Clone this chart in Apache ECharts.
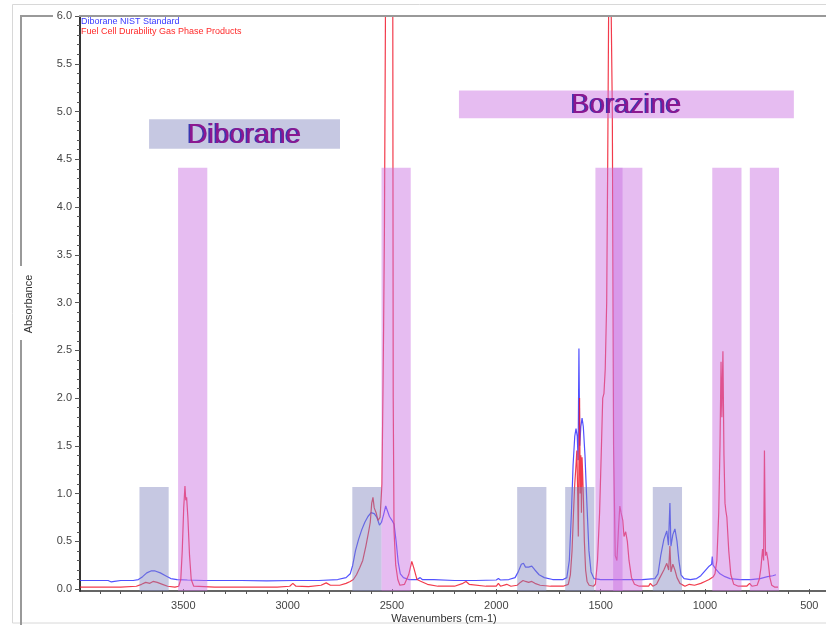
<!DOCTYPE html>
<html><head><meta charset="utf-8">
<script src="https://cdn.jsdelivr.net/npm/echarts@6/dist/echarts.min.js"></script>
<style>html,body{margin:0;padding:0;background:#fff}#c{width:826px;height:625px}</style>
</head><body><div id="c"></div>
<script>
// ---- tick labels ----
const xLabelValues = [3500, 3000, 2500, 2000, 1500, 1000, 500];
const xMinorTicks = [3900,3800,3700,3600,3500,3400,3300,3200,3100,3000,2900,2800,2700,2600,2500,2400,2300,2200,2100,2000,1900,1800,1700,1600,1500,1400,1300,1200,1100,1000,900,800,700,600,500];
const yLabelValues = [0, 0.5, 1, 1.5, 2, 2.5, 3, 3.5, 4, 4.5, 5, 5.5, 6];
const yMinorTicks = [0,0.1,0.2,0.3,0.4,0.5,0.6,0.7,0.8,0.9,1,1.1,1.2,1.3,1.4,1.5,1.6,1.7,1.8,1.9,2,2.1,2.2,2.3,2.4,2.5,2.6,2.7,2.8,2.9,3,3.1,3.2,3.3,3.4,3.5,3.6,3.7,3.8,3.9,4,4.1,4.2,4.3,4.4,4.5,4.6,4.7,4.8,4.9,5,5.1,5.2,5.3,5.4,5.5,5.6,5.7,5.8,5.9,6];

// ---- series names ----
const blueName = 'Diborane NIST Standard';
const redName = 'Fuel Cell Durability Gas Phase Products';

// ---- Diborane NIST standard spectrum (wavenumber, absorbance) ----
const blueWn = [3995,3930,3860,3845,3830,3800,3740,3715,3695,3675,3655,3635,3610,3585,3560,3530,3480,3400,3300,3235,3228,3220,3100,2970,2962,2955,2850,2760,2720,2700,2688,2675,2660,2645,2630,2615,2600,2585,2572,2560,2550,2540,2530,2522,2512,2500,2490,2480,2470,2460,2445,2420,2380,2365,2355,2300,2200,2100,2000,1990,1980,1940,1910,1895,1880,1870,1860,1845,1830,1815,1795,1770,1730,1680,1662,1650,1640,1632,1624,1618,1612,1608,1604,1600,1595,1589,1583,1575,1566,1556,1546,1532,1500,1400,1300,1240,1225,1212,1197,1183,1175,1168,1163,1154,1144,1134,1125,1115,1100,1070,1040,1020,1000,980,968,965,961,948,928,904,880,832,780,736,700,675,660];
const blueAbs = [0.09,0.09,0.09,0.075,0.08,0.09,0.09,0.10,0.13,0.17,0.19,0.19,0.17,0.14,0.11,0.10,0.095,0.09,0.09,0.09,0.105,0.09,0.085,0.09,0.105,0.09,0.09,0.10,0.12,0.16,0.25,0.40,0.52,0.62,0.70,0.76,0.80,0.79,0.75,0.67,0.70,0.78,0.87,0.86,0.76,0.72,0.68,0.50,0.28,0.16,0.12,0.10,0.10,0.12,0.10,0.10,0.09,0.09,0.095,0.11,0.095,0.10,0.12,0.18,0.26,0.27,0.23,0.23,0.24,0.20,0.15,0.12,0.10,0.10,0.12,0.30,0.80,1.30,1.60,1.68,1.60,1.35,2.52,1.50,1.70,1.79,1.70,1.40,0.90,0.40,0.18,0.11,0.10,0.10,0.10,0.11,0.16,0.35,0.52,0.61,0.46,0.90,0.45,0.57,0.63,0.50,0.30,0.15,0.11,0.10,0.11,0.14,0.19,0.24,0.26,0.34,0.25,0.21,0.16,0.13,0.11,0.10,0.10,0.11,0.13,0.14,0.15];

// ---- Fuel cell gas phase products spectrum (wavenumber, absorbance) ----
const redWn = [3995,3800,3725,3700,3680,3660,3645,3625,3600,3575,3540,3522,3512,3505,3498,3492,3488,3484,3478,3470,3462,3450,3350,3200,3050,2990,2975,2960,2900,2840,2815,2795,2750,2720,2700,2685,2670,2655,2640,2625,2612,2604,2597,2591,2585,2576,2567,2557,2548,2543,2540,2536,2531,2527,2500,2496,2494,2490,2482,2472,2462,2440,2420,2405,2395,2380,2360,2330,2280,2200,2160,2145,2130,2050,2000,1990,1980,1950,1930,1900,1885,1872,1860,1845,1830,1815,1790,1740,1680,1655,1645,1637,1630,1624,1618,1614,1610,1607,1604,1601,1598,1595,1592,1589,1586,1582,1578,1572,1565,1555,1535,1525,1515,1505,1496,1490,1484,1478,1471,1466,1461,1457,1448,1444,1438,1430,1422,1414,1408,1402,1394,1388,1380,1372,1364,1352,1338,1315,1270,1262,1250,1232,1216,1197,1183,1174,1168,1163,1154,1144,1134,1120,1096,1075,1050,1020,1000,980,960,952,943,934,928,923,919,914,909,904,900,895,886,876,862,840,800,786,775,750,740,732,724,719,715,710,705,698,689,680,665,650];
const redAbs = [0.02,0.02,0.03,0.05,0.07,0.06,0.08,0.07,0.05,0.03,0.02,0.03,0.10,0.40,0.85,1.08,0.93,0.96,0.75,0.35,0.10,0.03,0.02,0.02,0.02,0.03,0.06,0.03,0.025,0.04,0.065,0.04,0.04,0.06,0.08,0.10,0.15,0.22,0.30,0.45,0.60,0.70,0.90,0.96,0.85,0.80,0.72,0.75,1.10,2.10,2.75,3.80,6.10,7.50,7.50,6.00,2.00,0.60,0.25,0.10,0.04,0.05,0.15,0.29,0.22,0.10,0.08,0.05,0.03,0.03,0.06,0.08,0.05,0.03,0.03,0.06,0.03,0.05,0.03,0.04,0.07,0.09,0.08,0.07,0.08,0.06,0.04,0.03,0.03,0.05,0.15,0.40,0.80,1.10,1.30,1.45,1.00,0.55,1.30,2.00,1.00,1.40,0.80,1.38,1.20,0.90,0.50,0.20,0.08,0.04,0.03,0.05,0.30,0.80,1.50,2.00,2.05,2.30,3.00,4.50,6.30,7.50,7.50,5.00,1.50,0.35,0.30,0.65,0.87,0.80,0.72,0.55,0.60,0.50,0.30,0.12,0.05,0.03,0.03,0.06,0.03,0.05,0.12,0.20,0.27,0.20,0.45,0.18,0.26,0.20,0.12,0.06,0.03,0.05,0.04,0.06,0.08,0.10,0.13,0.16,0.30,0.80,1.50,2.38,1.80,2.49,1.40,0.90,0.82,0.75,0.40,0.15,0.05,0.03,0.03,0.06,0.03,0.04,0.10,0.22,0.42,0.30,1.45,0.35,0.39,0.30,0.12,0.04,0.02,0.02];

// ---- shaded assignment bands (wavenumber from, to) and their top absorbance ----
const diboraneBands = [[3710,3570],[2690,2550],[1900,1760],[1670,1530],[1250,1110]];
const diboraneBandTop = 1.07;
const borazineBands = [[3525,3385],[2550,2410],[1525,1395],[1440,1300],[965,825],[785,645]];
const borazineBandTop = 4.41;

// ---- annotation boxes: [wn from, wn to, abs low, abs high, text] ----
const annotationBoxes = [[3664,2749,4.61,4.92,'Diborane'],[2179,574,4.93,5.22,'Borazine']];

const yMin = -0.02, yMax = 6.0, xMin = 420, xMax = 3995;
const FONT = '"Liberation Sans", Arial, sans-serif';

const chart = echarts.init(document.getElementById('c'), null, {renderer:'canvas'});

function zip(a, b){ return a.map((v,i)=>[v,b[i]]); }

const bandData = [];
diboraneBands.forEach(b=>bandData.push([b[0], b[1], yMin, diboraneBandTop, 0]));
borazineBands.forEach(b=>bandData.push([b[0], b[1], yMin, borazineBandTop, 1]));

const bandFill = ['rgba(128,133,190,0.45)', 'rgba(200,110,225,0.46)'];

function rectRender(params, api){
  const p1 = api.coord([api.value(0), api.value(2)]);
  const p2 = api.coord([api.value(1), api.value(3)]);
  return {
    type:'rect',
    shape:{x:Math.min(p1[0],p2[0]), y:Math.min(p1[1],p2[1]), width:Math.abs(p2[0]-p1[0]), height:Math.abs(p2[1]-p1[1])},
    style:{fill: bandFill[api.value(4)]}
  };
}

const boxData = annotationBoxes.map((b,i)=>[b[0],b[1],b[2],b[3],i]);
function boxRender(params, api){
  const i = api.value(4);
  const p1 = api.coord([api.value(0), api.value(2)]);
  const p2 = api.coord([api.value(1), api.value(3)]);
  const x = Math.min(p1[0],p2[0]), y = Math.min(p1[1],p2[1]);
  const w = Math.abs(p2[0]-p1[0]), h = Math.abs(p2[1]-p1[1]);
  const cx = x + w/2, cy = y + h/2 + 1;
  const label = annotationBoxes[i][4];
  return {
    type:'group',
    children:[
      {type:'rect', shape:{x:x,y:y,width:w,height:h}, style:{fill: bandFill[i]}},
      {type:'text', x:cx-1.5, y:cy, style:{text:label, font:'28px '+FONT, fill:'#3a36b0', align:'center', verticalAlign:'middle'}},
      {type:'text', x:cx, y:cy, style:{text:label, font:'28px '+FONT, fill:'#8c1890', align:'center', verticalAlign:'middle'}}
    ]
  };
}

const axisLabelStyle = {color:'#444', fontSize:11, fontFamily:FONT};

chart.setOption({
  animation:false,
  backgroundColor:'#fff',
  grid:{left:80, right:0, top:16, bottom:34, containLabel:false},
  xAxis:[{
    type:'value', inverse:true, min:xMin, max:xMax,
    axisLine:{show:true, onZero:false, lineStyle:{color:'#333', width:1.5}},
    axisTick:{show:true, customValues:xMinorTicks, length:3, lineStyle:{color:'#555'}},
    axisLabel:{show:true, customValues:xLabelValues, margin:9, formatter:v=>String(v), ...axisLabelStyle},
    splitLine:{show:false}
  },{
    type:'value', inverse:true, min:xMin, max:xMax, position:'bottom', offset:0,
    axisLine:{show:false},
    axisTick:{show:true, customValues:xLabelValues, length:5, lineStyle:{color:'#555'}},
    axisLabel:{show:false},
    splitLine:{show:false}
  }],
  yAxis:[{
    type:'value', min:yMin, max:yMax,
    axisLine:{show:true, onZero:false, lineStyle:{color:'#333', width:2}},
    axisTick:{show:true, customValues:yMinorTicks, length:3, lineStyle:{color:'#555'}},
    axisLabel:{show:true, customValues:yLabelValues, margin:8, formatter:v=>v.toFixed(1), ...axisLabelStyle},
    splitLine:{show:false}
  },{
    type:'value', min:yMin, max:yMax, position:'left', offset:0,
    axisLine:{show:false},
    axisTick:{show:true, customValues:yLabelValues, length:5, lineStyle:{color:'#555'}},
    axisLabel:{show:false},
    splitLine:{show:false}
  }],
  series:[
    {name:blueName, type:'line', data:zip(blueWn, blueAbs), showSymbol:false, symbol:'none', clip:true,
     lineStyle:{color:'rgba(50,50,255,0.85)', width:1.2}, z:3},
    {name:redName, type:'line', data:zip(redWn, redAbs), showSymbol:false, symbol:'none', clip:true,
     lineStyle:{color:'rgba(240,25,45,0.85)', width:1.2}, z:4},
    {type:'custom', renderItem:rectRender, data:bandData, encode:{x:[0,1], y:[2,3]}, clip:true, z:5, silent:true},
    {type:'custom', renderItem:boxRender, data:boxData, encode:{x:[0,1], y:[2,3]}, clip:true, z:6, silent:true}
  ],
  graphic:[
    {type:'rect', shape:{x:12.5, y:4.5, width:830, height:618.5}, style:{fill:'none', stroke:'#d8d8d8', lineWidth:1}, z:0},
    {type:'line', shape:{x1:79, y1:16, x2:826, y2:16}, style:{stroke:'#999', lineWidth:2}, z:10},
    {type:'polyline', shape:{points:[[53,16],[21,16],[21,266]]}, style:{stroke:'#999', lineWidth:2, fill:'none'}, z:10},
    {type:'line', shape:{x1:21, y1:340, x2:21, y2:625}, style:{stroke:'#999', lineWidth:2}, z:10},
    {type:'text', x:29, y:304, rotation:Math.PI/2, style:{text:'Absorbance', font:'11px '+FONT, fill:'#333', align:'center', verticalAlign:'middle'}, z:10},
    {type:'text', x:444, y:619, style:{text:'Wavenumbers (cm-1)', font:'11px '+FONT, fill:'#333', align:'center', verticalAlign:'middle'}, z:10},
    {type:'text', x:81, y:22, style:{text:blueName, font:'9px '+FONT, fill:'#3a3aff', align:'left', verticalAlign:'middle'}, z:10},
    {type:'text', x:81, y:32, style:{text:redName, font:'9px '+FONT, fill:'#ff2a2a', align:'left', verticalAlign:'middle'}, z:10}
  ]
});
</script></body></html>
